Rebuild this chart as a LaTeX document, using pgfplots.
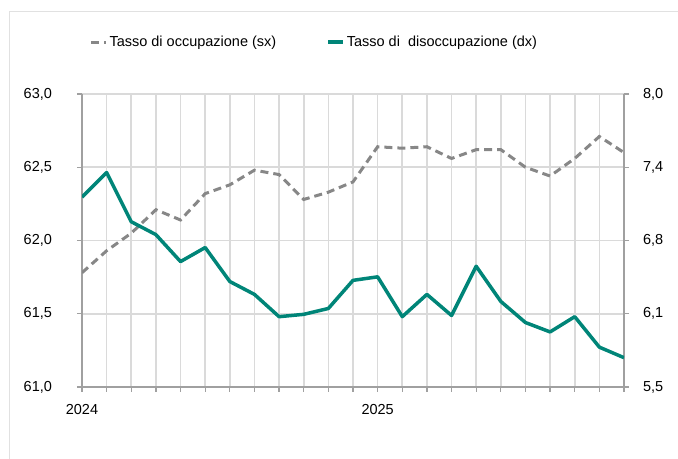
\documentclass[border=0pt]{standalone}
\usepackage{pgfplots}
\pgfplotsset{compat=1.18}
\usepackage{fontspec}
\setmainfont{Liberation Sans}
\definecolor{myteal}{RGB}{0,133,120}
\definecolor{dgray}{RGB}{135,135,135}
\definecolor{gridc}{RGB}{218,218,218}
\definecolor{axc}{RGB}{160,160,160}
\definecolor{framec}{RGB}{225,225,225}
\begin{document}
\fontsize{14.5bp}{17bp}\selectfont
\begin{tikzpicture}
\path[use as bounding box] (0,0) rectangle (678bp,459bp);
\draw[framec, line width=1bp] (9bp,0) -- (9bp,447bp) -- (678bp,447bp);
\begin{axis}[
  at={(82bp,72bp)}, anchor=south west, scale only axis,
  width=542bp, height=293bp,
  xmin=0, xmax=22, ymin=61, ymax=63,
  axis x line*=bottom, axis y line*=left,
  axis line style={axc, line width=1.3bp, -},
  xtick={0,...,22}, xticklabels={2024,,,,,,,,,,,,2025},
  ytick={61,61.5,62,62.5,63},
  yticklabels={{61,0},{61,5},{62,0},{62,5},{63,0}},
  tick align=outside, major tick length=5bp,
  tick style={axc, line width=1.3bp},
  grid=major, major grid style={gridc, line width=1.6bp},
  yticklabel style={xshift=-20bp},
  xticklabel style={yshift=-7bp},
  legend columns=2,
  legend style={draw=none, fill=none, at={(0.008,1.177)}, anchor=west,
    /tikz/every even column/.append style={column sep=48bp},
    font=\fontsize{14.5bp}{17bp}\selectfont},
  legend cell align=left,
  legend image code/.code={\draw[#1] (0bp,0bp) -- (15bp,0bp);},
]
\addplot[dgray, line width=3bp, dash pattern=on 8bp off 5bp] coordinates {
(0,61.78) (1,61.93) (2,62.05) (3,62.21) (4,62.14) (5,62.32) (6,62.38)
(7,62.48) (8,62.45) (9,62.28) (10,62.33) (11,62.40) (12,62.64) (13,62.63)
(14,62.64) (15,62.56) (16,62.62) (17,62.62) (18,62.50) (19,62.44)
(20,62.56) (21,62.71) (22,62.60)};
\addlegendentry{Tasso di occupazione (sx)}
\addlegendimage{myteal, line width=3.5bp}
\addlegendentry{Tasso di\ \ disoccupazione (dx)}
\end{axis}
\begin{axis}[
  at={(82bp,72bp)}, anchor=south west, scale only axis,
  width=542bp, height=293bp,
  xmin=0, xmax=22, ymin=5.5, ymax=8,
  axis y line*=right, axis x line=none,
  axis line style={axc, line width=1.3bp, -},
  ytick={5.5,6.125,6.75,7.375,8},
  yticklabels={{5,5},{6,1},{6,8},{7,4},{8,0}},
  tick align=outside, major tick length=5bp,
  tick style={axc, line width=1.3bp},
  yticklabel style={xshift=9bp},
]
\addplot[myteal, line width=3.5bp, line join=round] coordinates {
(0,7.12) (1,7.33) (2,6.91) (3,6.80) (4,6.57) (5,6.69) (6,6.40)
(7,6.29) (8,6.10) (9,6.12) (10,6.17) (11,6.41) (12,6.44) (13,6.10)
(14,6.29) (15,6.11) (16,6.53) (17,6.23) (18,6.05) (19,5.97)
(20,6.10) (21,5.84) (22,5.75)};
\end{axis}
\end{tikzpicture}
\end{document}
